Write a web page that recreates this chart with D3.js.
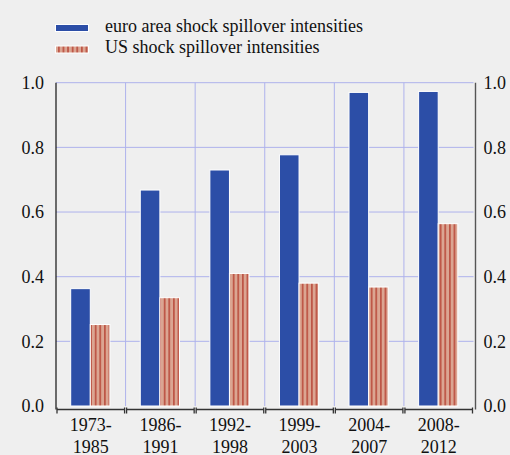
<!DOCTYPE html>
<html>
<head>
<meta charset="utf-8">
<script src="https://cdn.jsdelivr.net/npm/d3@7"></script>
<style>
  html, body { margin: 0; padding: 0; background: #efefef; }
  svg { display: block; }
  text { font-family: "Liberation Serif", "Times New Roman", serif; fill: #111; }
</style>
</head>
<body>
<svg id="chart" width="510" height="455"></svg>
<script>
// Periods and spillover intensities
const periods = [["1973-", "1985"], ["1986-", "1991"], ["1992-", "1998"], ["1999-", "2003"], ["2004-", "2007"], ["2008-", "2012"]];
const periodKeys = periods.map(p => p.join(""));
const euroArea = [0.363, 0.668, 0.730, 0.777, 0.970, 0.973];
const usShock = [0.252, 0.335, 0.410, 0.380, 0.368, 0.564];
const yTicks = [0, 0.2, 0.4, 0.6, 0.8, 1.0];
const seriesNames = ["euro area shock spillover intensities", "US shock spillover intensities"];

const svg = d3.select("#chart");
const plotLeft = 56, plotRight = 473.5, plotTop = 82.7, plotBottom = 406;
const fontSize = "18px";

const x = d3.scaleBand().domain(periodKeys).range([plotLeft, plotRight]).padding(0);
const y = d3.scaleLinear().domain([0, 1]).range([plotBottom, plotTop]);

const blue = "#2c4ea7";
const salmon = "#dba592";
const stripe = "#b3392b";
const grid = "#aeb2ec";

// striped fill for the US series
const defs = svg.append("defs");
const pat = defs.append("pattern")
  .attr("id", "stripes").attr("patternUnits", "userSpaceOnUse")
  .attr("width", 4.6).attr("height", 10);
pat.append("rect").attr("width", 4.6).attr("height", 10).attr("fill", salmon);
pat.append("rect").attr("x", 3.0).attr("width", 1.3).attr("height", 10).attr("fill", stripe);

// horizontal grid lines
svg.append("g").selectAll("line").data(yTicks.filter(d => d > 0)).join("line")
  .attr("x1", plotLeft).attr("x2", plotRight)
  .attr("y1", d => y(d)).attr("y2", d => y(d))
  .attr("stroke", grid).attr("stroke-width", 1);

// vertical grid lines between periods
svg.append("g").selectAll("line").data(periodKeys.slice(1)).join("line")
  .attr("x1", d => x(d)).attr("x2", d => x(d))
  .attr("y1", plotTop).attr("y2", plotBottom)
  .attr("stroke", grid).attr("stroke-width", 1);

// bars
const bw = 19.6;
const gBars = svg.append("g");
gBars.selectAll("rect.ea").data(euroArea).join("rect")
  .attr("class", "ea")
  .attr("x", (d, i) => x(periodKeys[i]) + x.bandwidth() / 2 - bw - 0.5)
  .attr("y", d => y(d))
  .attr("width", bw).attr("height", d => plotBottom - y(d))
  .attr("fill", blue).attr("stroke", "#fff").attr("stroke-width", 1);
gBars.selectAll("rect.us").data(usShock).join("rect")
  .attr("class", "us")
  .attr("x", (d, i) => x(periodKeys[i]) + x.bandwidth() / 2 - 0.5)
  .attr("y", d => y(d))
  .attr("width", bw).attr("height", d => plotBottom - y(d))
  .attr("fill", "url(#stripes)").attr("stroke", "#fff").attr("stroke-width", 1);

// left axis
const leftAxis = d3.axisLeft(y).tickValues(yTicks).tickFormat(d3.format(".1f")).tickSize(0).tickPadding(12);
const gl = svg.append("g").attr("transform", `translate(${plotLeft},0)`).call(leftAxis);
gl.select(".domain").remove();
gl.selectAll("text").style("font-size", fontSize).style("font-family", "Liberation Serif").attr("fill", "#111");
svg.append("line").attr("x1", plotLeft).attr("x2", plotLeft).attr("y1", plotTop).attr("y2", 409.5)
  .attr("stroke", "#111").attr("stroke-width", 1.2);

// right axis
const rightAxis = d3.axisRight(y).tickValues(yTicks).tickFormat(d3.format(".1f")).tickSize(0).tickPadding(8);
const gr = svg.append("g").attr("transform", `translate(475.5,0)`).call(rightAxis);
gr.select(".domain").remove();
gr.selectAll("text").style("font-size", fontSize).style("font-family", "Liberation Serif").attr("fill", "#111");
svg.append("line").attr("x1", 475.5).attr("x2", 475.5).attr("y1", plotTop).attr("y2", 409.5)
  .attr("stroke", "#555").attr("stroke-width", 1.4);

// bottom axis: one bracket per period
const axisY = 409.5;
svg.append("g").selectAll("path").data(periodKeys).join("path")
  .attr("d", d => {
    const x0 = x(d) + 1, x1 = x(d) + x.bandwidth() - 1;
    return `M${x0},${axisY + 4}V${axisY - 2}M${x0},${axisY}H${x1}M${x1},${axisY + 4}V${axisY - 2}`;
  })
  .attr("fill", "none").attr("stroke", "#333").attr("stroke-width", 1.3);

// period labels on two lines
const labels = svg.append("g").selectAll("text").data(periods).join("text")
  .attr("text-anchor", "middle")
  .style("font-size", fontSize);
labels.each(function(p, i) {
  const cx = x(periodKeys[i]) + x.bandwidth() / 2;
  d3.select(this).selectAll("tspan").data(p).join("tspan")
    .attr("x", cx).attr("y", (t, j) => 431 + j * 22).text(t => t);
});

// legend
const legend = svg.append("g");
legend.append("rect").attr("x", 55.5).attr("y", 24.5).attr("width", 33).attr("height", 7)
  .attr("fill", blue).attr("stroke", "#fff").attr("stroke-width", 1);
legend.append("rect").attr("x", 55.5).attr("y", 46).attr("width", 33).attr("height", 7)
  .attr("fill", "url(#stripes)").attr("stroke", "#fff").attr("stroke-width", 1);
legend.selectAll("text").data(seriesNames).join("text")
  .attr("x", 105).attr("y", (d, i) => 31.5 + i * 21.8)
  .style("font-size", fontSize).text(d => d);
</script>
</body>
</html>
